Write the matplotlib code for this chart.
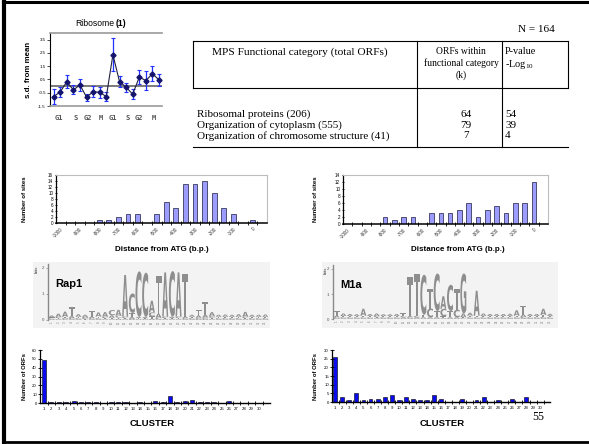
import matplotlib
matplotlib.use('Agg')
import matplotlib.pyplot as plt
from matplotlib.lines import Line2D
from matplotlib.textpath import TextPath
from matplotlib.patches import PathPatch
from matplotlib.font_manager import FontProperties
import matplotlib.transforms as mtrans

# ---------------- data ----------------
rib_vals = [-0.79, -0.44, 0.32, -0.29, 0.09, -0.84, -0.42, -0.47, -0.79,
            2.36, 0.34, -0.08, -0.61, 0.67, 0.42, 0.92, 0.47]
rib_err = [0.55, 0.38, 0.50, 0.34, 0.48, 0.25, 0.40, 0.42, 0.34,
           1.24, 0.40, 0.34, 0.40, 0.55, 0.68, 0.57, 0.47]
rib_yticks = [-1.5, -0.5, 0.5, 1.5, 2.5, 3.5]
phase_labels = ["G1", "S", "G2", "M", "G1", "S", "G2", "M"]
phase_pos = [0.8, 3.4, 5.2, 7.1, 9.0, 11.3, 13.0, 15.2]

table_header = ["MPS Functional category (total ORFs)",
                "ORFs within\nfunctional category\n(k)",
                "P-value\n-Log$_{10}$"]
table_categories = ["Ribosomal proteins (206)",
                    "Organization of cytoplasm (555)",
                    "Organization of chromosome structure (41)"]
table_k = [64, 79, 7]
table_logp = [54, 39, 4]
n_total = 164

dist_labels = ["-1000", "-900", "-800", "-700", "-600", "-500",
               "-400", "-300", "-200", "-100", "0"]
rap1_sites = [0, 0, 0, 0, 1, 1, 2, 3, 3, 0, 3, 7, 5, 13, 13, 14, 10, 5, 3, 0, 1, 0]
m1a_sites = [0, 0, 0, 0, 2, 1, 2, 2, 0, 3, 3, 3, 4, 6, 2, 4, 5, 3, 6, 6, 12, 0]

rap1_logo = [
    ("GCTA", [0.03, 0.03, 0.04, 0.07]), ("GTCA", [0.03, 0.04, 0.05, 0.12]),
    ("CGTA", [0.03, 0.04, 0.05, 0.20]), ("GCAT", [0.03, 0.04, 0.08, 0.35]),
    ("GCTA", [0.03, 0.04, 0.05, 0.10]), ("TCGA", [0.03, 0.04, 0.05, 0.08]),
    ("GCAT", [0.03, 0.04, 0.06, 0.20]), ("GCTA", [0.03, 0.04, 0.06, 0.16]),
    ("GTCA", [0.03, 0.04, 0.06, 0.17]), ("GTAC", [0.03, 0.05, 0.10, 0.20]),
    ("GTCA", [0.04, 0.05, 0.08, 0.22]), ("GTCA", [0.03, 0.04, 0.06, 1.60]),
    ("GATC", [0.04, 0.08, 0.15, 0.75]), ("GTAC", [0.03, 0.04, 0.05, 1.75]),
    ("GTAC", [0.03, 0.04, 0.05, 1.70]), ("GTCA", [0.04, 0.10, 0.15, 0.45]),
    ("GCAT", [0.03, 0.06, 0.15, 1.45]), ("GTCA", [0.03, 0.04, 0.06, 1.70]),
    ("GTAC", [0.03, 0.04, 0.06, 1.75]), ("GTCA", [0.03, 0.04, 0.06, 1.70]),
    ("GCAT", [0.03, 0.04, 0.06, 1.65]), ("GCTA", [0.03, 0.04, 0.05, 0.08]),
    ("GCAT", [0.04, 0.05, 0.08, 0.22]), ("GCAT", [0.04, 0.06, 0.10, 0.50]),
    ("GTCA", [0.03, 0.05, 0.07, 0.15]), ("GCTA", [0.03, 0.04, 0.05, 0.08]),
    ("GCTA", [0.03, 0.04, 0.05, 0.09]), ("GCTA", [0.03, 0.04, 0.05, 0.08]),
    ("GCTA", [0.03, 0.04, 0.05, 0.10]), ("GTCA", [0.03, 0.04, 0.06, 0.18]),
    ("GCTA", [0.03, 0.04, 0.05, 0.08]), ("GCTA", [0.03, 0.04, 0.05, 0.08]),
    ("GCTA", [0.03, 0.04, 0.05, 0.09]),
]
m1a_logo = [
    ("GCAT", [0.03, 0.04, 0.06, 0.18]), ("GCTA", [0.03, 0.04, 0.05, 0.10]),
    ("GCTA", [0.03, 0.04, 0.05, 0.08]), ("GCTA", [0.03, 0.04, 0.05, 0.07]),
    ("GCTA", [0.03, 0.04, 0.06, 0.28]), ("GCTA", [0.03, 0.04, 0.05, 0.08]),
    ("GTCA", [0.03, 0.04, 0.05, 0.10]), ("GCTA", [0.03, 0.04, 0.05, 0.07]),
    ("GCTA", [0.03, 0.04, 0.05, 0.07]), ("GCTA", [0.03, 0.04, 0.05, 0.08]),
    ("GACT", [0.03, 0.04, 0.05, 0.12]), ("GCAT", [0.03, 0.04, 0.05, 1.55]),
    ("GACT", [0.03, 0.04, 0.05, 1.70]), ("GATC", [0.03, 0.04, 0.10, 1.60]),
    ("GACT", [0.03, 0.04, 0.35, 0.80]), ("GATC", [0.03, 0.04, 0.25, 1.50]),
    ("GTCA", [0.03, 0.08, 0.30, 0.50]), ("GATC", [0.03, 0.04, 0.25, 1.05]),
    ("GACT", [0.03, 0.04, 0.30, 0.85]), ("CTAG", [0.03, 0.04, 0.15, 1.60]),
    ("GCTA", [0.03, 0.04, 0.06, 0.12]), ("GCTA", [0.03, 0.04, 0.06, 1.00]),
    ("GCTA", [0.03, 0.04, 0.05, 0.10]), ("GCTA", [0.03, 0.04, 0.05, 0.08]),
    ("GCTA", [0.03, 0.04, 0.05, 0.08]), ("GCTA", [0.03, 0.04, 0.05, 0.08]),
    ("GCTA", [0.03, 0.04, 0.05, 0.09]), ("GCTA", [0.03, 0.04, 0.06, 0.22]),
    ("GCAT", [0.03, 0.05, 0.10, 0.35]), ("GCTA", [0.03, 0.04, 0.05, 0.08]),
    ("GCTA", [0.03, 0.04, 0.05, 0.08]), ("GCTA", [0.03, 0.05, 0.08, 0.25]),
    ("GCTA", [0.03, 0.04, 0.05, 0.09]),
]

clusters = list(range(1, 31))
rap1_orfs = [49, 1, 1, 1, 2, 1, 1, 1, 0, 1, 1, 1, 0, 1, 0,
             2, 1, 8, 1, 2, 3, 1, 1, 1, 0, 2, 0, 0, 0, 0]
m1a_orfs = [26, 3, 1, 5, 1, 2, 2, 3, 4, 1, 3, 2, 1, 1, 4,
            2, 0, 0, 2, 0, 1, 3, 0, 1, 0, 2, 0, 3, 0, 0]
page_number = "55"

# ---------------- setup ----------------
W, H = 589, 444
plt.rcParams['font.family'] = ['Liberation Sans', 'DejaVu Sans']
plt.rcParams['mathtext.fontset'] = 'custom'
plt.rcParams['mathtext.rm'] = 'Liberation Serif'
plt.rcParams['mathtext.it'] = 'Liberation Serif:italic'
plt.rcParams['mathtext.bf'] = 'Liberation Serif:bold'

fig = plt.figure(figsize=(W / 100, H / 100), dpi=100)
fig.patch.set_facecolor('white')


def box(x0, y0, x1, y1, **kw):
    return fig.add_axes([x0 / W, 1 - y1 / H, (x1 - x0) / W, (y1 - y0) / H], **kw)


def ftext(x, y, s, **kw):
    return fig.text(x / W, 1 - y / H, s, **kw)


def fline(xs, ys, **kw):
    fig.add_artist(Line2D([x / W for x in xs], [1 - y / H for y in ys], **kw))


# page border
fline([4, 4], [2, 442], lw=3, color='black')
fline([3, 589], [2.5, 2.5], lw=2.2, color='black')
fline([3, 589], [441.5, 441.5], lw=2, color='black')

# ---------------- ribosome profile ----------------
ax = box(50, 33, 162, 106)
xs = list(range(len(rib_vals)))
ax.axhline(0, color='#7a7a7a', lw=1.4, zorder=1)
ax.errorbar(xs, rib_vals, yerr=rib_err, fmt='none', ecolor='#2233ff',
            elinewidth=0.9, capsize=1.3, capthick=0.8, zorder=2)
ax.plot(xs, rib_vals, color='#202040', lw=0.8, marker='D', ms=2.6,
        mfc='#14146e', mec='#14146e', zorder=3)
ax.set_xlim(-0.55, 16.45)
ax.set_ylim(-1.5, 4.0)
for s in ['top', 'bottom']:
    ax.spines[s].set_color('#9a9a9a')
    ax.spines[s].set_linewidth(1.2)
ax.spines['right'].set_visible(False)
ax.spines['left'].set_linewidth(0.8)
ax.set_yticks(rib_yticks)
ax.set_yticklabels([f"{v:.1f}" for v in rib_yticks], fontsize=3.2)
ax.tick_params(axis='y', length=2, width=0.5, pad=1)
ax.set_xticks(phase_pos)
ax.set_xticklabels(phase_labels, fontsize=5, fontweight='bold', color='#555555',
                   family='DejaVu Sans Mono')
ax.tick_params(axis='x', length=0, pad=6.5)
ftext(29, 70, "s.d. from mean", rotation=90, ha='center', va='center',
      fontsize=5.7, fontweight='bold')
ftext(114, 24, "Ribosome", ha='right', va='center', fontsize=6.2)
ftext(116, 24, "(1)", ha='left', va='center', fontsize=6.2, fontweight='bold')

# ---------------- table ----------------
serif = 'Liberation Serif'
ftext(555, 30, f"N = {n_total}", ha='right', va='center', fontsize=8, family=serif)
lkw = dict(color='black', lw=0.8)
fline([193, 568], [41, 41], **lkw)
fline([193, 568], [88, 88], **lkw)
fline([193, 568], [147, 147], **lkw)
fline([193, 193], [41, 88], **lkw)
fline([417, 417], [41, 147], **lkw)
fline([502, 502], [41, 147], **lkw)
fline([568, 568], [41, 88], **lkw)
ftext(300, 47.5, table_header[0], ha='center', va='top', fontsize=8.2, family=serif)
ftext(461, 47.5, table_header[1], ha='center', va='top', fontsize=6.9, family=serif,
      linespacing=1.25)
ftext(505, 47.5, table_header[2], ha='left', va='top', fontsize=7.4, family=serif,
      linespacing=1.15)
row_y = [114, 125, 136]
for cat, k, lp, y in zip(table_categories, table_k, table_logp, row_y):
    ftext(197, y, cat, ha='left', va='center', fontsize=8, family=serif)
    ftext(466, y, str(k), ha='center', va='center', fontsize=8, family=serif)
    ftext(505, y, str(lp), ha='left', va='center', fontsize=8, family=serif)


# ---------------- distance histograms ----------------
def dist_hist(px, vals, ymax, xlabel_x, ylab_x):
    ax = box(*px)
    idx = list(range(len(vals)))
    ax.bar(idx, vals, width=0.5, color='#9c9cff', edgecolor='#1c1c3c', lw=0.5)
    ax.set_xlim(-0.5, len(vals) - 0.5)
    ax.set_ylim(0, ymax)
    for s in ['top', 'right']:
        ax.spines[s].set_color('#bdbdbd')
        ax.spines[s].set_linewidth(0.8)
    ax.spines['left'].set_linewidth(0.9)
    ax.spines['bottom'].set_linewidth(1.1)
    ax.set_yticks(range(0, ymax + 1, 2))
    ax.set_yticklabels([str(v) for v in range(0, ymax + 1, 2)], fontsize=3.3)
    ax.tick_params(axis='y', length=2, width=0.6, pad=1, direction='inout')
    ax.set_xticks(idx[::2][:len(dist_labels)])
    ax.set_xticklabels(dist_labels, fontsize=3.4, rotation=45, ha='right',
                       rotation_mode='anchor', color='#333333')
    ax.set_xticks([i + 0.5 for i in idx[:-1]], minor=True)
    ax.tick_params(axis='x', which='major', length=0, pad=2.5)
    ax.tick_params(axis='x', which='minor', length=3, width=0.6, direction='inout')
    ftext(xlabel_x, 249, "Distance from ATG (b.p.)", ha='center', va='center',
          fontsize=5.8, fontweight='bold')
    ftext(ylab_x, 199, "Number of sites", rotation=90, ha='center', va='center',
          fontsize=4.3, fontweight='bold')


dist_hist((56, 175, 267, 223), rap1_sites, 16, 162, 25)
dist_hist((343, 175, 548, 224), m1a_sites, 14, 458, 315)

# ---------------- sequence logos ----------------
lfp = FontProperties(family='DejaVu Sans', weight='bold')


def draw_letter(ax, ch, x, y, w, h, color):
    tp = TextPath((0, 0), ch, size=1, prop=lfp)
    bb = tp.get_extents()
    t = (mtrans.Affine2D().translate(-bb.x0, -bb.y0)
         .scale(w / bb.width, h / bb.height).translate(x - w / 2, y))
    ax.add_patch(PathPatch(t.transform_path(tp), fc=color, ec='none', lw=0))


def logo(px, stacks, xlim, ylim, name):
    ax = box(*px)
    ax.set_facecolor('#f3f3f3')
    ax.set_xlim(*xlim)
    ax.set_ylim(*ylim)
    for s in ['top', 'right', 'bottom']:
        ax.spines[s].set_visible(False)
    ax.spines['left'].set_position(('data', -0.55))
    ax.spines['left'].set_bounds(0, 2.15)
    ax.spines['left'].set_color('#8a8a8a')
    ax.spines['left'].set_linewidth(1.0)
    ax.set_yticks([0, 1, 2])
    ax.set_yticklabels(['0', '1', '2'], fontsize=3.2, color='#555555')
    ax.tick_params(axis='y', length=1.5, width=0.5, pad=1, color='#8a8a8a')
    ax.set_xticks([])
    for k, (letters, hs) in enumerate(stacks):
        y = 0.0
        for ch, hh in zip(letters, hs):
            draw_letter(ax, ch, k, y, 0.9, hh, '#8e8e8e')
            y += hh
        ax.text(k, -0.04, str(k + 1), rotation=90, ha='center', va='top',
                fontsize=2.2, color='#7a7a7a')
    ax.text(xlim[0] + 0.5, 1.95, "bits", rotation=90, ha='center', va='center',
            fontsize=3, color='#666666', fontweight='bold')
    ax.text(0.5, 1.38, name, ha='left', va='center', fontsize=8, fontweight='bold')


logo((33, 262, 270, 328), rap1_logo, (-2.8, 32.7), (-0.31, 2.23), "Rap1")
logo((322, 262, 558, 328), m1a_logo, (-2.2, 33.2), (-0.36, 2.28), "M1a")


# ---------------- cluster bar charts ----------------
def cluster_bars(px, vals, ymax, ystep, xlim, cl_x, ylab_x):
    ax = box(*px)
    ax.bar(clusters, vals, width=0.55, color='#0b0bf0', edgecolor='black', lw=0.4)
    ax.set_xlim(*xlim)
    ax.set_ylim(0, ymax)
    for s in ['top', 'right']:
        ax.spines[s].set_visible(False)
    ax.spines['left'].set_linewidth(0.9)
    ax.spines['bottom'].set_linewidth(1.0)
    ax.set_yticks(range(0, ymax + 1, ystep))
    ax.set_yticklabels([str(v) for v in range(0, ymax + 1, ystep)], fontsize=3.1)
    ax.tick_params(axis='y', length=2.5, width=0.6, pad=1, direction='inout')
    ax.set_xticks(clusters)
    ax.set_xticklabels([str(c) for c in clusters], fontsize=3.1)
    ax.set_xticks([c + 0.5 for c in clusters], minor=True)
    ax.tick_params(axis='x', which='major', length=0, pad=3)
    ax.tick_params(axis='x', which='minor', length=3, width=0.6, direction='inout')
    ftext(cl_x, 423, "CLUSTER", ha='center', va='center', fontsize=6.8,
          fontweight='bold')
    ftext(ylab_x, 377, "Number of ORFs", rotation=90, ha='center', va='center',
          fontsize=4.2, fontweight='bold')


cluster_bars((40, 350, 270, 403), rap1_orfs, 60, 10, (0.46, 31.5), 152, 25)
cluster_bars((332, 350, 550, 402), m1a_orfs, 30, 5, (0.55, 31.4), 442, 315)
ftext(538, 417, page_number, ha='center', va='center', fontsize=8.5, family=serif)

fig.savefig('out.png', dpi=100)
